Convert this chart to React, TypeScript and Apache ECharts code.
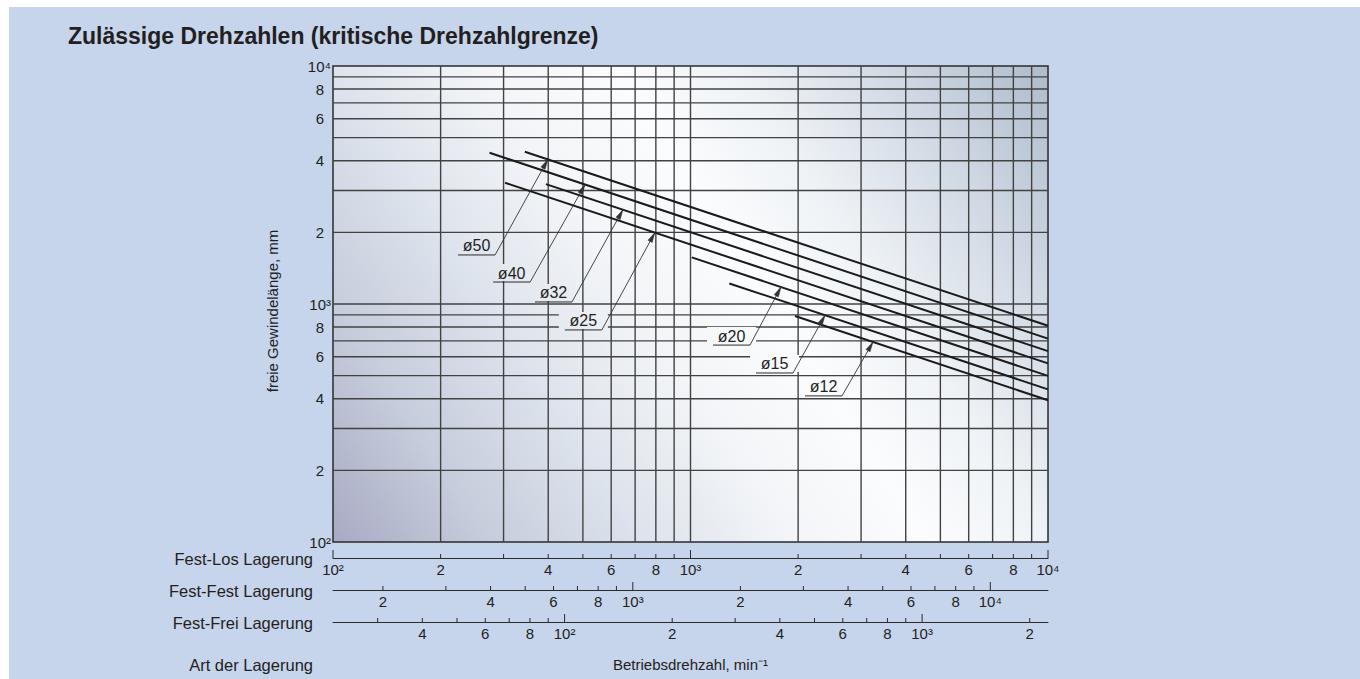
import React, { useEffect, useRef } from "react";
import * as echarts from "echarts";

// ---------- texts ----------
const TITLE = "Zulässige Drehzahlen (kritische Drehzahlgrenze)";
const Y_NAME = "freie Gewindelänge, mm";
const X_NAME = "Betriebsdrehzahl, min⁻¹";
const ROW_NAMES = ["Fest-Los Lagerung", "Fest-Fest Lagerung", "Fest-Frei Lagerung"];
const ROW_TITLE = "Art der Lagerung";

// ---------- axis ranges ----------
const SPEED_MIN = 100;
const SPEED_MAX = 10000;
const LEN_MIN = 100;
const LEN_MAX = 10000;
const FACTOR_FEST_FEST = 1.45; // Fest-Fest speed scale relative to Fest-Los
const FACTOR_FEST_FREI = 0.225; // Fest-Frei speed scale relative to Fest-Los

// ---------- grid lines ----------
const GRID_SPEED = [200, 300, 400, 500, 600, 700, 800, 900, 1000, 2000, 3000, 4000, 5000, 6000, 7000, 8000, 9000];
const GRID_LENGTH = [200, 300, 400, 500, 600, 700, 800, 900, 1000, 2000, 3000, 4000, 5000, 6000, 7000, 8000, 9000];

// ---------- y tick labels ----------
const Y_LABEL_VALUES = [100, 200, 400, 600, 800, 1000, 2000, 4000, 6000, 8000, 10000];
const Y_LABELS = ["10²", "2", "4", "6", "8", "10³", "2", "4", "6", "8", "10⁴"];

// ---------- speed scales ----------
const FL_TICKS = [100, 200, 300, 400, 500, 600, 700, 800, 900, 1000, 2000, 3000, 4000, 5000, 6000, 7000, 8000, 9000, 10000];
const FL_LABEL_VALUES = [100, 200, 400, 600, 800, 1000, 2000, 4000, 6000, 8000, 10000];
const FL_LABELS = ["10²", "2", "4", "6", "8", "10³", "2", "4", "6", "8", "10⁴"];

const FF_TICKS = [200, 300, 400, 500, 600, 700, 800, 900, 1000, 2000, 3000, 4000, 5000, 6000, 7000, 8000, 9000, 10000];
const FF_LABEL_VALUES = [200, 400, 600, 800, 1000, 2000, 4000, 6000, 8000, 10000];
const FF_LABELS = ["2", "4", "6", "8", "10³", "2", "4", "6", "8", "10⁴"];

const FR_TICKS = [30, 40, 50, 60, 70, 80, 90, 100, 200, 300, 400, 500, 600, 700, 800, 900, 1000, 2000];
const FR_LABEL_VALUES = [40, 60, 80, 100, 200, 400, 600, 800, 1000, 2000];
const FR_LABELS = ["4", "6", "8", "10²", "2", "4", "6", "8", "10³", "2"];

// ---------- series (one straight line per screw shaft diameter) ----------
const DIAMETERS = ["ø50", "ø40", "ø32", "ø25", "ø20", "ø15", "ø12"];
const LINE_START_SPEED = [344, 274, 394, 303, 1008, 1284, 1960];
const LINE_START_LENGTH = [4360, 4320, 3190, 3230, 1570, 1220, 890];
const LINE_END_SPEED = [10000, 10000, 10000, 10000, 10000, 10000, 10000];
const LINE_END_LENGTH = [810, 715, 634, 563, 499, 438, 394];

// ---------- annotation (label + arrow) ----------
const ARROW_TIP_SPEED = [399, 507, 647, 795, 1791, 2378, 3239];
const LABEL_SPEED = [284, 356, 466, 565, 1467, 1935, 2653];
const LABEL_LENGTH = [1607, 1237, 1020, 778, 672, 513, 411];

const FONT = '"Liberation Sans", Arial, Helvetica, sans-serif';
const INK = "#231f20";

function isDecade(v: number) {
  const l = Math.log10(v);
  return Math.abs(l - Math.round(l)) < 1e-9;
}

function textStyle(text: string, size: number, align: string, vAlign: string, extra: any = {}) {
  return {
    text,
    fill: INK,
    fontSize: size,
    fontFamily: FONT,
    align,
    textAlign: align,
    verticalAlign: vAlign,
    textVerticalAlign: vAlign,
    ...extra,
  };
}

function axisRowSeries(axisIndex: number, ticks: number[], labelValues: number[], labels: string[], offset: number) {
  return [
    {
      type: "custom",
      xAxisIndex: axisIndex,
      yAxisIndex: 0,
      clip: false,
      silent: true,
      z: 5,
      data: ticks.map((v) => [v, LEN_MIN]),
      renderItem: (params: any, api: any) => {
        const v = api.value(0);
        const p = api.coord([v, LEN_MIN]);
        const y = p[1] + offset;
        const h = isDecade(v) ? 8 : 4;
        return {
          type: "line",
          shape: { x1: p[0], y1: y, x2: p[0], y2: y - h },
          style: { stroke: "#2b2b2b", lineWidth: 1 },
        };
      },
    },
    {
      type: "custom",
      xAxisIndex: axisIndex,
      yAxisIndex: 0,
      clip: false,
      silent: true,
      z: 5,
      data: labelValues.map((v) => [v, LEN_MIN]),
      renderItem: (params: any, api: any) => {
        const p = api.coord([api.value(0), LEN_MIN]);
        return {
          type: "text",
          x: p[0],
          y: p[1] + offset + 11,
          style: textStyle(labels[params.dataIndex], 15, "center", "middle"),
        };
      },
    },
  ];
}

function buildOption() {
  const gridLeft = 333;
  const gridTop = 66;
  const gridWidth = 715;
  const gridHeight = 476;

  const plotGradient = {
    type: "linear",
    global: true,
    x: gridLeft,
    y: gridTop + gridHeight,
    x2: gridLeft + gridWidth,
    y2: gridTop,
    colorStops: [
      { offset: 0, color: "#a8aac3" },
      { offset: 0.15, color: "#c5ccdb" },
      { offset: 0.3, color: "#dde3ec" },
      { offset: 0.45, color: "#f3f5f8" },
      { offset: 0.58, color: "#fbfcfd" },
      { offset: 0.7, color: "#eef2f6" },
      { offset: 0.85, color: "#cfd8e3" },
      { offset: 1, color: "#aebbcc" },
    ],
  };

  const hiddenAxisParts = {
    axisTick: { show: false },
    axisLabel: { show: false },
    splitLine: { show: false },
    minorTick: { show: false },
    minorSplitLine: { show: false },
  };

  const xAxisBase = (min: number, max: number, offset: number) => ({
    type: "log",
    logBase: 10,
    gridIndex: 0,
    min,
    max,
    position: "bottom",
    offset,
    axisLine: { show: true, lineStyle: { color: "#2b2b2b", width: 1 } },
    ...hiddenAxisParts,
  });

  const rowOffsets = [16, 48, 80];

  const series: any[] = [];

  // grid lines
  series.push({
    type: "custom",
    xAxisIndex: 0,
    yAxisIndex: 0,
    silent: true,
    z: 1,
    data: GRID_SPEED.map((v) => [v, LEN_MIN]),
    renderItem: (params: any, api: any) => {
      const v = api.value(0);
      const a = api.coord([v, LEN_MIN]);
      const b = api.coord([v, LEN_MAX]);
      return {
        type: "line",
        shape: { x1: a[0], y1: a[1], x2: b[0], y2: b[1] },
        style: { stroke: "#424242", lineWidth: 1.4 },
      };
    },
  });
  series.push({
    type: "custom",
    xAxisIndex: 0,
    yAxisIndex: 0,
    silent: true,
    z: 1,
    data: GRID_LENGTH.map((v) => [SPEED_MIN, v]),
    renderItem: (params: any, api: any) => {
      const v = api.value(1);
      const a = api.coord([SPEED_MIN, v]);
      const b = api.coord([SPEED_MAX, v]);
      return {
        type: "line",
        shape: { x1: a[0], y1: a[1], x2: b[0], y2: b[1] },
        style: { stroke: "#424242", lineWidth: 1.4 },
      };
    },
  });

  // y tick labels
  series.push({
    type: "custom",
    xAxisIndex: 0,
    yAxisIndex: 0,
    clip: false,
    silent: true,
    z: 5,
    data: Y_LABEL_VALUES.map((v) => [SPEED_MIN, v]),
    renderItem: (params: any, api: any) => {
      const p = api.coord([SPEED_MIN, api.value(1)]);
      const label = Y_LABELS[params.dataIndex];
      const sup = label.length > 1;
      return {
        type: "text",
        x: p[0] - (sup ? 2 : 9),
        y: p[1],
        style: textStyle(label, 15, "right", "middle"),
      };
    },
  });

  // the diameter lines
  DIAMETERS.forEach((name, i) => {
    series.push({
      type: "line",
      name,
      xAxisIndex: 0,
      yAxisIndex: 0,
      silent: true,
      symbol: "none",
      z: 4,
      lineStyle: { color: "#1a1a1a", width: 2 },
      data: [
        [LINE_START_SPEED[i], LINE_START_LENGTH[i]],
        [LINE_END_SPEED[i], LINE_END_LENGTH[i]],
      ],
    });
  });

  // annotations
  series.push({
    type: "custom",
    xAxisIndex: 0,
    yAxisIndex: 0,
    clip: false,
    silent: true,
    z: 6,
    data: DIAMETERS.map((_, i) => [LABEL_SPEED[i], LABEL_LENGTH[i]]),
    renderItem: (params: any, api: any) => {
      const i = params.dataIndex;
      const n1 = LINE_START_SPEED[i];
      const l1 = LINE_START_LENGTH[i];
      const slope = Math.log(LINE_END_LENGTH[i] / l1) / Math.log(LINE_END_SPEED[i] / n1);
      const tipN = ARROW_TIP_SPEED[i];
      const tipL = l1 * Math.pow(tipN / n1, slope);
      const tip = api.coord([tipN, tipL]);
      const anchor = api.coord([api.value(0), api.value(1)]);
      const dx = tip[0] - anchor[0];
      const dy = tip[1] - anchor[1];
      const len = Math.sqrt(dx * dx + dy * dy);
      const ux = dx / len;
      const uy = dy / len;
      const headLen = 10;
      const headW = 2.4;
      const bx = tip[0] - ux * headLen;
      const by = tip[1] - uy * headLen;
      const px = -uy * headW;
      const py = ux * headW;
      const ul = 37;
      return {
        type: "group",
        children: [
          {
            type: "rect",
            shape: { x: anchor[0] - ul - 6, y: anchor[1] - 18, width: ul + 12, height: 17 },
            style: { fill: plotGradient },
          },
          {
            type: "text",
            x: anchor[0] - ul / 2,
            y: anchor[1] - 9,
            style: textStyle(DIAMETERS[i], 16, "center", "middle"),
          },
          {
            type: "line",
            shape: { x1: anchor[0] - ul, y1: anchor[1], x2: anchor[0], y2: anchor[1] },
            style: { stroke: "#2b2b2b", lineWidth: 1 },
          },
          {
            type: "line",
            shape: { x1: anchor[0], y1: anchor[1], x2: tip[0], y2: tip[1] },
            style: { stroke: "#333", lineWidth: 0.9 },
          },
          {
            type: "polygon",
            shape: { points: [[tip[0], tip[1]], [bx + px, by + py], [bx - px, by - py]] },
            style: { fill: "#333", stroke: "#333", lineWidth: 0.5 },
          },
        ],
      };
    },
  });

  // speed scales
  series.push(...axisRowSeries(0, FL_TICKS, FL_LABEL_VALUES, FL_LABELS, rowOffsets[0]));
  series.push(...axisRowSeries(1, FF_TICKS, FF_LABEL_VALUES, FF_LABELS, rowOffsets[1]));
  series.push(...axisRowSeries(2, FR_TICKS, FR_LABEL_VALUES, FR_LABELS, rowOffsets[2]));

  const graphic: any[] = [
    {
      type: "text",
      x: 68,
      y: 36,
      style: textStyle(TITLE, 23, "left", "middle", { fontWeight: "bold" }),
    },
    {
      type: "text",
      x: 272,
      y: 311,
      rotation: Math.PI / 2,
      style: textStyle(Y_NAME, 15, "center", "middle"),
    },
    {
      type: "text",
      x: gridLeft + gridWidth / 2,
      y: 664,
      style: textStyle(X_NAME, 15, "center", "middle"),
    },
    {
      type: "text",
      x: 313,
      y: 665,
      style: textStyle(ROW_TITLE, 16.5, "right", "middle"),
    },
  ];
  ROW_NAMES.forEach((name, k) => {
    graphic.push({
      type: "text",
      x: 313,
      y: gridTop + gridHeight + rowOffsets[k] + 1,
      style: textStyle(name, 16.5, "right", "middle"),
    });
  });

  return {
    animation: false,
    backgroundColor: "transparent",
    textStyle: { fontFamily: FONT },
    grid: {
      left: gridLeft,
      top: gridTop,
      width: gridWidth,
      height: gridHeight,
      show: true,
      backgroundColor: plotGradient,
      borderColor: "#2b2b2b",
      borderWidth: 1.5,
    },
    xAxis: [
      xAxisBase(SPEED_MIN, SPEED_MAX, rowOffsets[0]),
      xAxisBase(SPEED_MIN * FACTOR_FEST_FEST, SPEED_MAX * FACTOR_FEST_FEST, rowOffsets[1]),
      xAxisBase(SPEED_MIN * FACTOR_FEST_FREI, SPEED_MAX * FACTOR_FEST_FREI, rowOffsets[2]),
    ],
    yAxis: [
      {
        type: "log",
        logBase: 10,
        min: LEN_MIN,
        max: LEN_MAX,
        axisLine: { show: false },
        ...hiddenAxisParts,
      },
    ],
    graphic,
    series,
  };
}

export default function App() {
  const ref = useRef<HTMLDivElement>(null);
  useEffect(() => {
    if (!ref.current) return;
    const chart = echarts.init(ref.current, null, { renderer: "svg" });
    chart.setOption(buildOption() as any);
    return () => chart.dispose();
  }, []);
  return (
    <div style={{ position: "fixed", left: 0, top: 0, width: 1360, height: 679, background: "#ffffff", overflow: "hidden" }}>
      <div style={{ position: "absolute", left: 9, top: 7, right: 0, bottom: 0, background: "#c6d4ec" }} />
      <div ref={ref} style={{ position: "absolute", left: 0, top: 0, width: 1360, height: 679 }} />
    </div>
  );
}
